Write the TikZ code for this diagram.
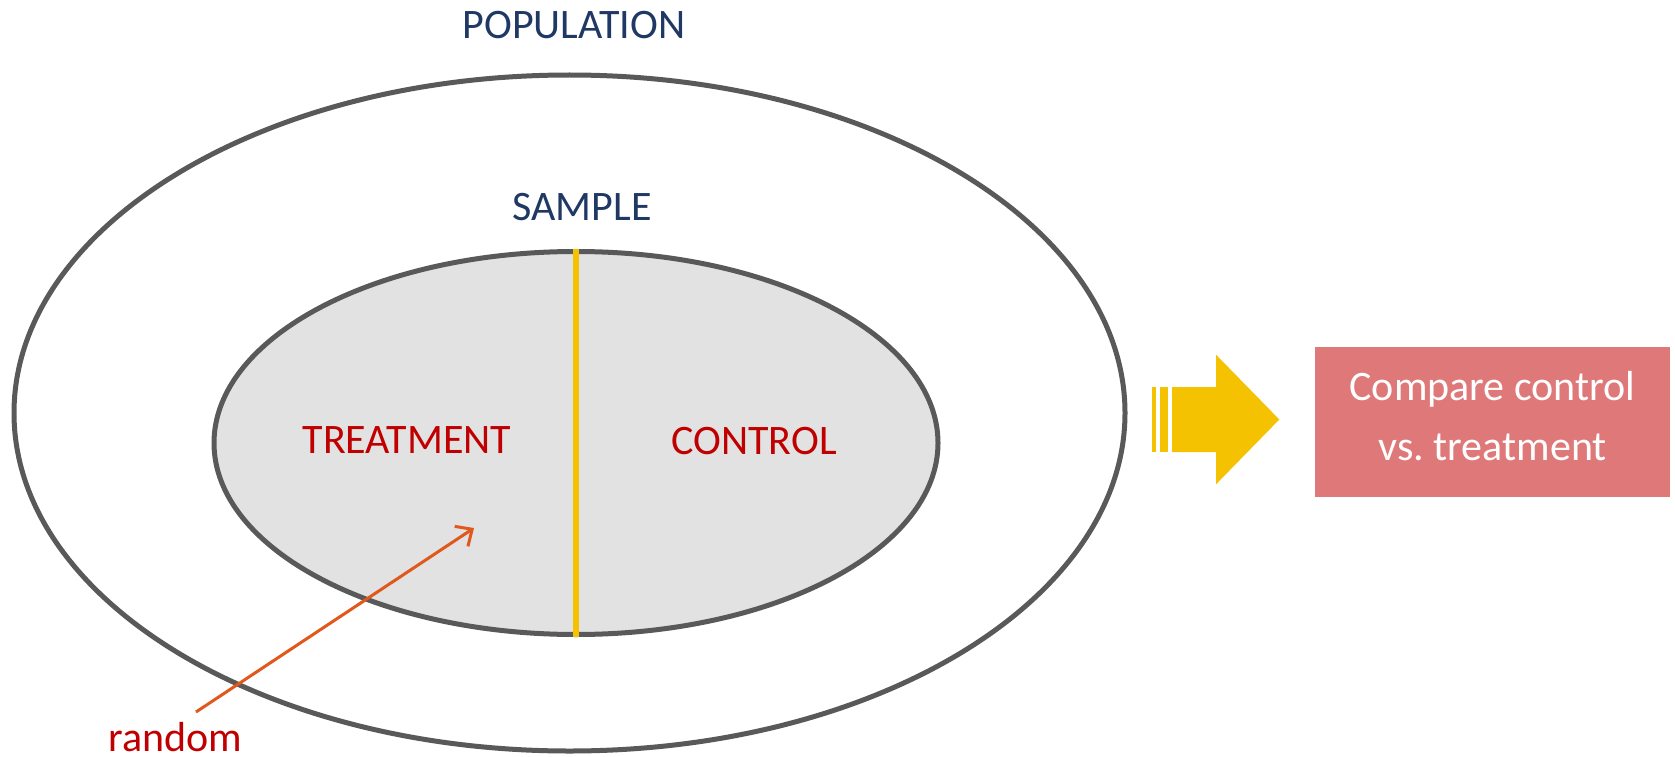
\documentclass[tikz,border=0pt]{standalone}
\usepackage{fontspec}
\setmainfont{Carlito}
\usetikzlibrary{shapes.geometric,arrows.meta}
\definecolor{navy}{RGB}{31,56,100}
\definecolor{dred}{RGB}{192,0,0}
\definecolor{ring}{RGB}{89,89,89}
\definecolor{lgray}{RGB}{226,226,226}
\definecolor{gold}{RGB}{244,194,0}
\definecolor{orng}{RGB}{224,88,28}
\definecolor{rose}{RGB}{223,121,121}
\tikzset{
  lbl/.style={font=\fontsize{42}{50}\selectfont, inner sep=0pt},
  ring/.style={ellipse, draw=ring, line width=5pt, inner sep=0pt},
}
\begin{document}
\begin{tikzpicture}[x=1pt,y=-1pt]
\useasboundingbox (0,0) rectangle (1675,757);
\node[ring, minimum width=1111pt, minimum height=676pt] (pop) at (569.5,413) {};
\node[ring, fill=lgray, minimum width=724pt, minimum height=383pt] (smp) at (576,443) {};
\draw[gold, line width=6pt] (smp.north) -- (smp.south);
\node[lbl, text=navy] (poplbl) at (574,25) {POPULATION};
\node[lbl, text=navy] (smplbl) at (582,207) {SAMPLE};
\node[lbl, text=dred] (trt) at (407,440) {TREATMENT};
\node[lbl, text=dred] (ctl) at (754,441) {CONTROL};
\node[lbl, text=dred, anchor=base] (rnd) at (175.5,751) {random};
\coordinate (rs) at (196,712);
\coordinate (re) at (474,528);
\draw[orng, line width=3pt, -{Straight Barb[length=13pt,width=24pt,line width=3pt]}] (rs) -- (re);
% big arrow
\fill[gold] (1152.3,387) rectangle (1156,452);
\fill[gold] (1160.3,387) rectangle (1167.7,452);
\fill[gold] (1172,387) -- (1216,387) -- (1216,354.7) -- (1279.3,419.5) -- (1216,484.3) -- (1216,452) -- (1172,452) -- cycle;
\node[fill=rose, minimum width=355pt, minimum height=150pt, inner sep=0pt] (cmp) at (1492.5,422) {};
\node[inner sep=0pt, text=white, font=\fontsize{42}{60}\selectfont, align=center] (cmptxt)
  at ([yshift=6pt]cmp.center) {Compare control\\vs.\ treatment};
\end{tikzpicture}
\end{document}
